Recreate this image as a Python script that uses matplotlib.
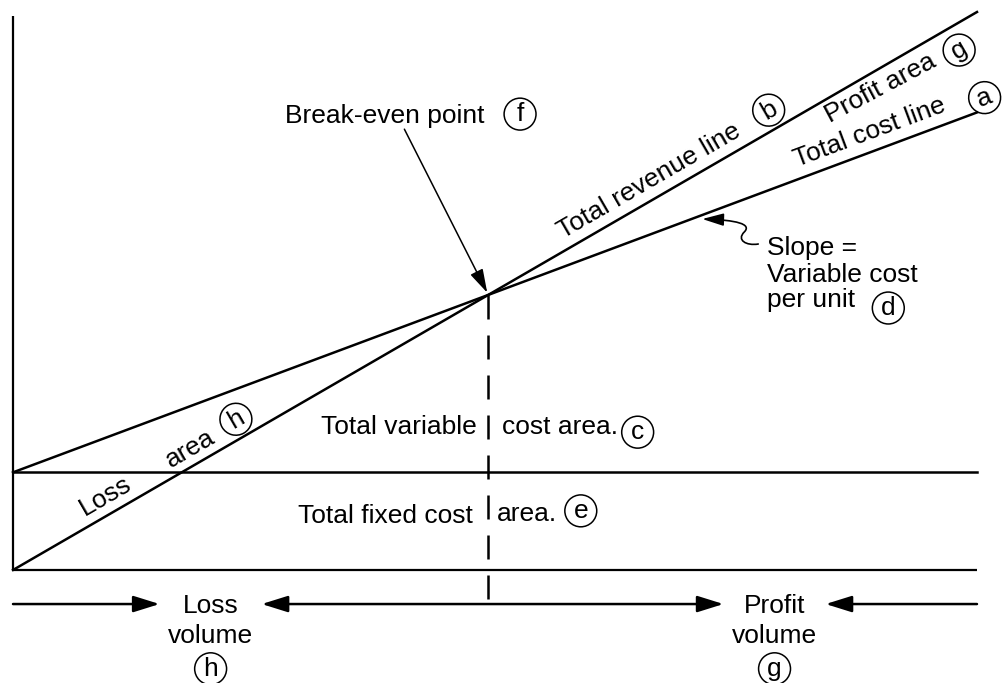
import numpy as np
import matplotlib
matplotlib.use("Agg")
import matplotlib.pyplot as plt
from matplotlib.path import Path
from matplotlib.patches import FancyArrowPatch
from matplotlib.transforms import IdentityTransform

plt.rcParams['font.family'] = ['Liberation Sans', 'DejaVu Sans']

# break-even chart: volume (0-100) against money (0-100)
volume = np.array([0.0, 100.0])
revenue = np.array([0.0, 100.0])
total_cost = np.array([17.5, 82.0])
fixed_cost = 17.5
axis_top = 99.3

fs = 19
lw = 1.8


def revenue_at(v):
    return revenue[0] + (revenue[1] - revenue[0]) * v / volume[1]


def cost_at(v):
    return total_cost[0] + (total_cost[1] - total_cost[0]) * v / volume[1]


rev_slope = (revenue[1] - revenue[0]) / (volume[1] - volume[0])
var_cost = (total_cost[1] - total_cost[0]) / (volume[1] - volume[0])
be_v = fixed_cost / (rev_slope - var_cost)
be_y = rev_slope * be_v

fig = plt.figure(figsize=(10.06, 6.83), dpi=100)
ax = fig.add_axes([0, 0, 1, 1])
ax.set_xlim(-1.349, 103.01)
ax.set_ylim(-20.25, 102.15)
ax.axis('off')

# axes, fixed cost, total cost and revenue lines
ax.plot([0, 0], [0, axis_top], color='k', lw=1.6, solid_capstyle='butt')
ax.plot(volume, [0, 0], color='k', lw=1.6, solid_capstyle='butt')
ax.plot(volume, [fixed_cost, fixed_cost], color='k', lw=lw)
ax.plot(volume, total_cost, color='k', lw=lw)
ax.plot(volume, revenue, color='k', lw=lw)
ax.plot([be_v, be_v], [be_y, -5.2], color='k', lw=lw,
        linestyle=(0, (9.6, 6.4)))


def screen_angle(fn):
    p0 = ax.transData.transform((0, fn(0)))
    p1 = ax.transData.transform((100, fn(100)))
    return np.degrees(np.arctan2(p1[1] - p0[1], p1[0] - p0[0]))


rev_angle = screen_angle(revenue_at)
cost_angle = screen_angle(cost_at)


def normal_offset(angle, off_px):
    th = np.radians(angle)
    k = off_px * 0.72
    return (-np.sin(th) * k, np.cos(th) * k)


def line_label(text, v, fn, angle, off_px, rot=None):
    ax.annotate(text, xy=(v, fn(v)), xytext=normal_offset(angle, off_px),
                textcoords='offset points', rotation=angle if rot is None else rot,
                rotation_mode='anchor', ha='left', va='baseline', fontsize=fs)


def circled(letter, xy, xytext=(0, 0), rot=0):
    ax.annotate(letter, xy=xy, xytext=xytext, textcoords='offset points',
                rotation=rot, rotation_mode='anchor', ha='center', va='center',
                fontsize=fs,
                bbox=dict(boxstyle='circle,pad=0.15', fc='none', ec='k', lw=1.1))


def line_circle(letter, v, fn, angle, off_px):
    circled(letter, (v, fn(v)), normal_offset(angle, off_px), rot=angle)


line_label('Total revenue line', 57.6, revenue_at, rev_angle, 11)
line_circle('b', 79.4, revenue_at, rev_angle, 19.4)
line_label('Profit area', 83.6, revenue_at, rev_angle, -22.5, rot=28)
line_circle('g', 96.9, revenue_at, rev_angle, -24)
line_label('Total cost line', 81.8, cost_at, cost_angle, 11.6)
line_circle('a', 101.2, cost_at, cost_angle, 11.2)
line_label('Loss', 8.0, revenue_at, rev_angle, 11)
line_label('area', 16.8, revenue_at, rev_angle, 9)
line_circle('h', 24.1, revenue_at, rev_angle, 18.8)

# break-even point callout
ax.text(28.2, 80.1, 'Break-even point', fontsize=fs, ha='left', va='baseline')
circled('f', (52.6, 81.7))
ax.annotate('', xy=(be_v - 0.1, be_y + 0.4), xytext=(40.6, 79.0),
            arrowprops=dict(arrowstyle='-|>,head_length=1.45,head_width=0.42',
                            mutation_scale=10, lw=1.1, color='k',
                            shrinkA=0, shrinkB=0))

# area labels either side of the break-even volume
ax.text(48.1, 24.4, 'Total variable', fontsize=fs, ha='right', va='baseline')
ax.text(50.7, 24.4, 'cost area.', fontsize=fs, ha='left', va='baseline')
circled('c', (64.8, 24.7))
ax.text(47.7, 8.4, 'Total fixed cost', fontsize=fs, ha='right', va='baseline')
ax.text(50.2, 8.8, 'area.', fontsize=fs, ha='left', va='baseline')
circled('e', (58.9, 10.6))

# slope note with a curly pointer to the total cost line
for txt, y in [('Slope =', 56.45), ('Variable cost', 51.6), ('per unit', 47.1)]:
    ax.text(78.2, y, txt, fontsize=fs, ha='left', va='baseline')
circled('d', (90.8, 46.95))

tip_v = 71.5
tx, ty = ax.transData.transform((tip_v, cost_at(tip_v)))
ty -= 4
pts = [(tx + 56, ty - 25),
       (tx + 44, ty - 27), (tx + 34, ty - 21), (tx + 42, ty - 13),
       (tx + 50, ty - 5), (tx + 34, ty - 1), (tx, ty)]
codes = [Path.MOVETO] + [Path.CURVE4] * 6
squiggle = FancyArrowPatch(path=Path(pts, codes),
                           arrowstyle='-|>,head_length=1.3,head_width=0.38',
                           mutation_scale=10, lw=1.2, color='k',
                           transform=IdentityTransform())
ax.add_patch(squiggle)

# loss / profit volume ranges under the axis
row_y = -6.1
loss_v = 20.5
profit_v = 79.0
gap = 5.3
arrow_kw = dict(mutation_scale=10, lw=1.8, color='k', shrinkA=0, shrinkB=0)
ax.annotate('', xy=(loss_v - gap, row_y), xytext=(volume[0], row_y),
            arrowprops=dict(arrowstyle='-|>,head_length=1.6,head_width=0.5', **arrow_kw))
ax.annotate('', xy=(profit_v + gap, row_y), xytext=(volume[-1], row_y),
            arrowprops=dict(arrowstyle='-|>,head_length=1.6,head_width=0.5', **arrow_kw))
ax.annotate('', xy=(loss_v + gap, row_y), xytext=(profit_v - gap, row_y),
            arrowprops=dict(arrowstyle='<|-|>,head_length=1.6,head_width=0.5', **arrow_kw))

for v, word, letter in [(loss_v, 'Loss', 'h'), (profit_v, 'Profit', 'g')]:
    ax.text(v, -7.7, word, fontsize=fs, ha='center', va='baseline')
    ax.text(v, -13.1, 'volume', fontsize=fs, ha='center', va='baseline')
    circled(letter, (v, -17.7))

fig.savefig('out.png', dpi=100)
